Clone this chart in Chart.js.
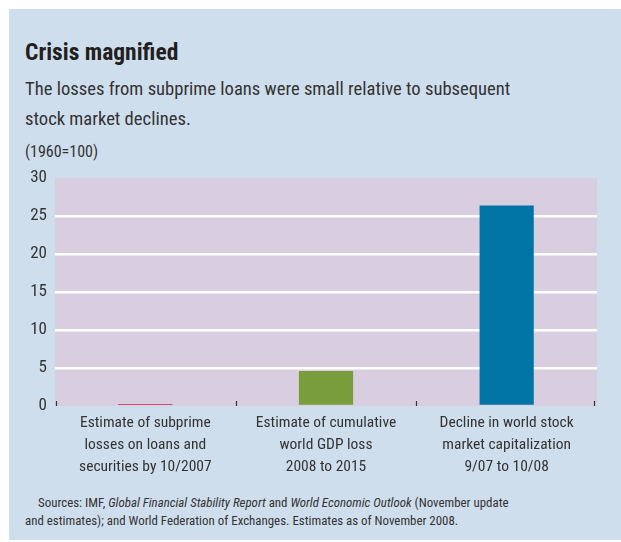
<!DOCTYPE html>
<html>
<head>
<meta charset="utf-8">
<script src="https://cdn.jsdelivr.net/npm/chart.js@4"></script>
<style>
  body { margin:0; background:#fff; width:621px; height:542px; overflow:hidden;
         font-family:"Roboto Condensed",sans-serif; }
  #panel { position:absolute; left:9px; top:9px; width:612px; height:531px; background:#cfdeed; }
  .txt { position:absolute; left:25px; color:#333; white-space:nowrap; }
  #title { top:38px; font-size:23.5px; font-weight:bold; color:#231f20; }
  #sub { top:74px; font-size:18.6px; line-height:30px; }
  #unit { top:142px; font-size:16px; }
  #note { top:494px; font-size:12.9px; line-height:18px; text-indent:13px; }
  #wrap { position:absolute; left:9px; top:160px; width:612px; height:325px; }
</style>
</head>
<body>
<div id="panel"></div>
<div class="txt" id="title">Crisis magnified</div>
<div class="txt" id="sub">The losses from subprime loans were small relative to subsequent<br>stock market declines.</div>
<div class="txt" id="unit">(1960=100)</div>
<div id="wrap"><canvas id="c"></canvas></div>
<div class="txt" id="note">Sources: IMF, <i>Global Financial Stability Report</i> and <i>World Economic Outlook</i> (November update<br>and estimates); and World Federation of Exchanges. Estimates as of November 2008.</div>
<script>
const font = '"Roboto Condensed",sans-serif';
const textColor = "#333";

const categories = [
  ["Estimate of subprime", "losses on loans and", "securities by 10/2007"],
  ["Estimate of cumulative", "world GDP loss", "2008 to 2015"],
  ["Decline in world stock", "market capitalization", "9/07 to 10/08"]
];
const values = [0.25, 4.6, 26.4];
const barColors = ["#c8234f", "#7a9d3c", "#0075a5"];
const yTicks = [0, 5, 10, 15, 20, 25, 30];

/* plot background + small category ticks */
const plotDecor = {
  id: "plotDecor",
  beforeDraw(chart) {
    const { ctx, chartArea: a } = chart;
    ctx.save();
    ctx.fillStyle = "#d9cde0";
    ctx.fillRect(a.left, a.top, a.right - a.left, a.bottom - a.top);
    ctx.restore();
  },
  afterDatasetsDraw(chart) {
    const { ctx, chartArea: a, scales: { x } } = chart;
    const step = x.getPixelForValue(1) - x.getPixelForValue(0);
    ctx.save();
    ctx.strokeStyle = "#333";
    ctx.lineWidth = 1.2;
    for (let i = 0; i <= categories.length; i++) {
      let px = Math.round(x.getPixelForValue(0) - step / 2 + i * step) + 0.5;
      px = Math.min(Math.max(px, a.left + 1.5), a.right - 2.5);
      ctx.beginPath();
      ctx.moveTo(px, a.bottom);
      ctx.lineTo(px, a.bottom - 5);
      ctx.stroke();
    }
    ctx.restore();
  }
};

new Chart(document.getElementById("c"), {
  type: "bar",
  data: {
    labels: categories,
    datasets: [{
      data: values,
      backgroundColor: barColors,
      borderWidth: 0,
      categoryPercentage: 1,
      barPercentage: 0.3
    }]
  },
  options: {
    responsive: true,
    maintainAspectRatio: false,
    animation: false,
    layout: { padding: { top: 14, right: 24, left: 0, bottom: 0 } },
    plugins: { legend: { display: false }, tooltip: { enabled: false } },
    scales: {
      x: {
        grid: { display: false, drawTicks: false },
        border: { display: false },
        ticks: { color: textColor, font: { family: font, size: 15.5, lineHeight: "22px" }, padding: 6, maxRotation: 0, autoSkip: false },
        afterFit(s) { s.height = 79; }
      },
      y: {
        min: 0, max: 30,
        afterBuildTicks(s) { s.ticks = yTicks.map(v => ({ value: v })); },
        grid: {
          drawTicks: false,
          color: c => (c.tick.value === 0 || c.tick.value === 30) ? "rgba(0,0,0,0)" : "#ffffff",
          lineWidth: 2.5
        },
        border: { display: false },
        ticks: { color: textColor, font: { family: font, size: 17 }, padding: 8 },
        afterFit(s) { s.width = 46; }
      }
    }
  },
  plugins: [plotDecor]
});
</script>
</body>
</html>
